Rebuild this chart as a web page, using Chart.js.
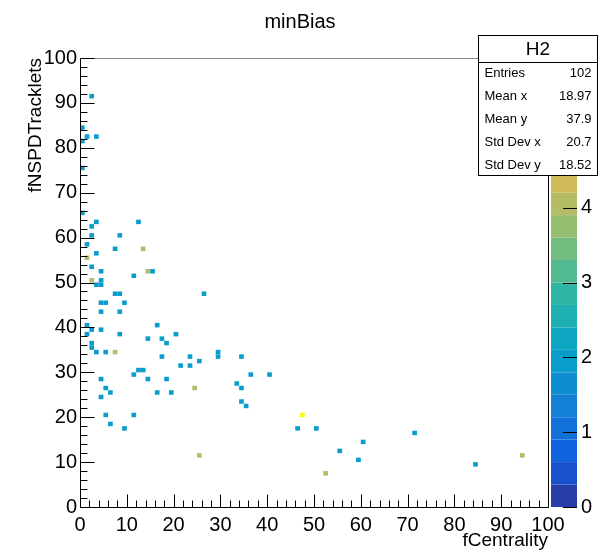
<!DOCTYPE html>
<html>
<head>
<meta charset="utf-8">
<script src="https://cdn.jsdelivr.net/npm/chart.js@4"></script>
<style>
  html, body { margin: 0; padding: 0; background: #fff; }
</style>
</head>
<body>
<canvas id="chart" width="600" height="552"></canvas>
<script>
// filled bins of H2 (lower edges), and their contents
const cellX = [2, 0, 1, 3, 0, 0, 0, 3, 12, 2, 2, 8, 1, 7, 13, 3, 1, 2, 4, 14, 15, 11, 2, 4, 3, 4, 7, 8, 26, 4,
  5, 9, 4, 8, 1, 16, 2, 4, 1, 8, 20, 14, 17, 18, 2, 2, 3, 5, 7, 29, 17, 23, 29, 34, 25, 21, 23, 12, 13, 11,
  36, 40, 4, 14, 18, 33, 5, 24, 34, 6, 16, 19, 4, 34, 35, 5, 11, 47, 6, 9, 46, 50, 71, 60, 55, 25, 94, 59, 84, 52];
const cellY = [91, 84, 82, 82, 81, 75, 65, 63, 63, 62, 60, 60, 58, 57, 57, 56, 55, 53, 52, 52, 52, 51, 50, 50, 49, 49, 47, 47, 47, 45,
  45, 45, 43, 43, 40, 40, 39, 39, 38, 38, 38, 37, 37, 36, 36, 35, 34, 34, 34, 34, 33, 33, 33, 33, 32, 31, 31, 30, 30, 29,
  29, 29, 28, 28, 28, 27, 26, 26, 26, 25, 25, 25, 24, 23, 22, 20, 20, 20, 18, 17, 17, 17, 16, 14, 12, 11, 11, 10, 9, 7];
const cellZ = [2, 2, 2, 2, 2, 2, 2, 2, 2, 2, 2, 2, 2, 2, 4, 2, 4, 2, 2, 4, 2, 2, 4, 2, 2, 2, 2, 2, 2, 2,
  2, 2, 2, 2, 2, 2, 2, 2, 2, 2, 2, 2, 2, 2, 2, 2, 2, 2, 4, 2, 2, 2, 2, 2, 2, 2, 2, 2, 2, 2,
  2, 2, 2, 2, 2, 2, 2, 4, 2, 2, 2, 2, 2, 2, 2, 2, 2, 6, 2, 2, 2, 2, 2, 2, 2, 4, 4, 2, 2, 4];

const xTickValues = [0, 10, 20, 30, 40, 50, 60, 70, 80, 90, 100];
const yTickValues = [0, 10, 20, 30, 40, 50, 60, 70, 80, 90, 100];
const zTickValues = [0, 1, 2, 3, 4, 5, 6];

const statNames = ['Entries', 'Mean x', 'Mean y', 'Std Dev x', 'Std Dev y'];
const statValues = ['102', '18.97', '37.9', '20.7', '18.52'];

const Z_MAX = 6;
const N_CONTOURS = 20;

// ROOT kBird palette
const birdStops = [0.0, 0.125, 0.25, 0.375, 0.5, 0.625, 0.75, 0.875, 1.0];
const birdR = [0.2082, 0.0592, 0.0780, 0.0232, 0.1802, 0.5301, 0.8186, 0.9956, 0.9764];
const birdG = [0.1664, 0.3599, 0.5041, 0.6419, 0.7178, 0.7492, 0.7328, 0.7862, 0.9832];
const birdB = [0.5293, 0.8684, 0.8385, 0.7914, 0.6425, 0.4662, 0.3499, 0.1968, 0.0539];

function bird(f) {
  let i = 0;
  while (i < birdStops.length - 2 && f > birdStops[i + 1]) i++;
  const t = (f - birdStops[i]) / (birdStops[i + 1] - birdStops[i]);
  const c = (arr) => Math.round(255 * (arr[i] + t * (arr[i + 1] - arr[i])));
  return `rgb(${c(birdR)},${c(birdG)},${c(birdB)})`;
}

function bandColor(k) {
  const idx = Math.floor((k + 0.99) * 255 / N_CONTOURS);
  return bird(idx / 254);
}

function colorFor(v) {
  let k = Math.floor(v / (Z_MAX / N_CONTOURS));
  if (k >= N_CONTOURS) k = N_CONTOURS - 1;
  return bandColor(k);
}

const FONT = 'Liberation Sans, Arial, Helvetica, sans-serif';

function line(ctx, x1, y1, x2, y2) {
  ctx.beginPath();
  ctx.moveTo(x1, y1);
  ctx.lineTo(x2, y2);
  ctx.stroke();
}

const rootStyle = {
  id: 'rootStyle',
  beforeDatasetsDraw(chart) {
    const ctx = chart.ctx;
    const xs = chart.scales.x;
    const ys = chart.scales.y;
    ctx.save();
    cellX.forEach((cx, i) => {
      const cy = cellY[i];
      const x0 = xs.getPixelForValue(cx);
      const x1 = xs.getPixelForValue(cx + 1);
      const y0 = ys.getPixelForValue(cy + 1);
      const y1 = ys.getPixelForValue(cy);
      ctx.fillStyle = colorFor(cellZ[i]);
      ctx.fillRect(x0, y0, x1 - x0, y1 - y0);
    });
    ctx.restore();
  },
  afterDraw(chart) {
    const ctx = chart.ctx;
    const xs = chart.scales.x;
    const ys = chart.scales.y;
    const zs = chart.scales.z;
    const a = chart.chartArea;
    ctx.save();
    ctx.lineWidth = 1;

    // frame
    ctx.strokeStyle = '#000';
    const L = Math.round(a.left) + 0.5;
    const R = Math.round(a.right) + 0.5;
    const T = Math.round(a.top) + 0.5;
    const B = Math.round(a.bottom) + 0.5;
    line(ctx, L, T, L, B);
    line(ctx, L, B, R, B);
    line(ctx, R, T, R, B);
    ctx.strokeStyle = '#8a8a8a';
    line(ctx, L, T, R, T);

    // axis ticks (major every 10, minor every 2)
    ctx.strokeStyle = '#000';
    for (let v = 0; v <= 100; v += 2) {
      const major = v % 10 === 0;
      const px = Math.round(xs.getPixelForValue(v)) + 0.5;
      line(ctx, px, B, px, B - (major ? 13 : 7));
      const py = Math.round(ys.getPixelForValue(v)) + 0.5;
      line(ctx, L, py, L + (major ? 14 : 7), py);
    }

    // colour bar
    const zl = 551, zr = 577;
    for (let k = 0; k < N_CONTOURS; k++) {
      const z0 = zs.getPixelForValue(k * Z_MAX / N_CONTOURS);
      const z1 = zs.getPixelForValue((k + 1) * Z_MAX / N_CONTOURS);
      ctx.fillStyle = bandColor(k);
      ctx.fillRect(zl, z1, zr - zl, z0 - z1);
    }
    ctx.strokeStyle = '#000';
    zTickValues.forEach((v) => {
      const pz = Math.round(zs.getPixelForValue(v)) + 0.5;
      line(ctx, zr, pz, zr - 14, pz);
    });

    // stats box
    const bx = 478.5, by = 35.5, bw = 119, bh = 140;
    ctx.fillStyle = '#fff';
    ctx.fillRect(bx, by, bw, bh);
    ctx.strokeStyle = '#000';
    ctx.strokeRect(bx, by, bw, bh);
    line(ctx, bx, by + 27, bx + bw, by + 27);
    ctx.fillStyle = '#000';
    ctx.font = `19px ${FONT}`;
    ctx.textAlign = 'center';
    ctx.textBaseline = 'middle';
    ctx.fillText('H2', bx + bw / 2, by + 14);
    ctx.font = `13px ${FONT}`;
    statNames.forEach((name, i) => {
      const ty = by + 38 + i * 23;
      ctx.textAlign = 'left';
      ctx.fillText(name, bx + 6, ty);
      ctx.textAlign = 'right';
      ctx.fillText(statValues[i], bx + bw - 6, ty);
    });
    ctx.restore();
  }
};

const setTicks = (values) => (scale) => {
  scale.ticks = values.map((v) => ({ value: v }));
};

new Chart(document.getElementById('chart'), {
  type: 'scatter',
  data: {
    datasets: [{
      label: 'H2',
      data: cellX.map((x, i) => ({ x: x + 0.5, y: cellY[i] + 0.5 })),
      pointRadius: 0,
      pointHoverRadius: 0,
    }],
  },
  options: {
    responsive: false,
    animation: false,
    devicePixelRatio: 1,
    layout: { padding: 0 },
    plugins: {
      legend: { display: false },
      tooltip: { enabled: false },
      title: {
        display: true,
        text: 'minBias',
        color: '#000',
        font: { family: FONT, size: 20, weight: 'normal', lineHeight: 1.2 },
        padding: { top: 10, bottom: 24 },
      },
    },
    scales: {
      x: {
        type: 'linear',
        min: 0,
        max: 100,
        afterBuildTicks: setTicks(xTickValues),
        afterFit: (s) => { s.height = 40; },
        grid: { display: false, drawTicks: false },
        border: { display: false },
        ticks: { color: '#000', padding: 6, maxRotation: 0, font: { family: FONT, size: 20, lineHeight: 1.2 } },
        title: {
          display: true,
          text: 'fCentrality',
          align: 'end',
          color: '#000',
          font: { family: FONT, size: 19, lineHeight: 0.5 },
          padding: { top: 0, bottom: 1 },
        },
      },
      y: {
        type: 'linear',
        min: 0,
        max: 100,
        afterBuildTicks: setTicks(yTickValues),
        afterFit: (s) => { s.width = 80; },
        grid: { display: false, drawTicks: false },
        border: { display: false },
        ticks: { color: '#000', padding: 3, font: { family: FONT, size: 20 } },
        title: {
          display: true,
          text: 'fNSPDTracklets',
          align: 'end',
          color: '#000',
          font: { family: FONT, size: 19 },
          padding: { top: 24, bottom: 0 },
        },
      },
      z: {
        type: 'linear',
        position: 'right',
        min: 0,
        max: Z_MAX,
        afterBuildTicks: setTicks(zTickValues),
        afterFit: (s) => { s.width = 52; },
        grid: { display: false, drawTicks: false },
        border: { display: false },
        ticks: { color: '#000', padding: 33, font: { family: FONT, size: 20 } },
      },
    },
  },
  plugins: [rootStyle],
});
</script>
</body>
</html>
